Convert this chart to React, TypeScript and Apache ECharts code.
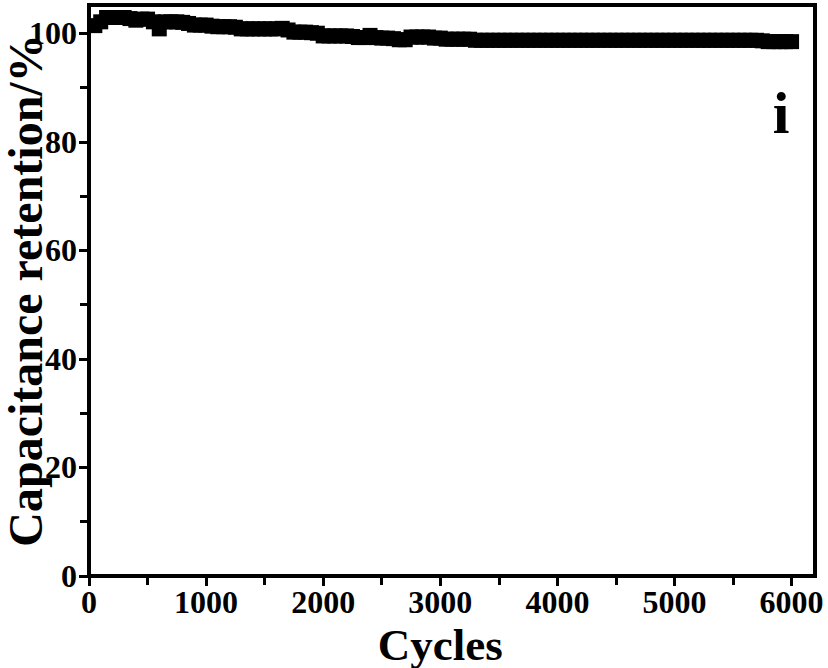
import React, { useEffect, useRef } from "react";
import * as echarts from "echarts";

const cycles: number[] = [
  50, 100, 150, 200, 250, 300, 350, 400, 450, 500,
  550, 600, 650, 700, 750, 800, 850, 900, 950, 1000,
  1050, 1100, 1150, 1200, 1250, 1300, 1350, 1400, 1450, 1500,
  1550, 1600, 1650, 1700, 1750, 1800, 1850, 1900, 1950, 2000,
  2050, 2100, 2150, 2200, 2250, 2300, 2350, 2400, 2450, 2500,
  2550, 2600, 2650, 2700, 2750, 2800, 2850, 2900, 2950, 3000,
  3050, 3100, 3150, 3200, 3250, 3300, 3350, 3400, 3450, 3500,
  3550, 3600, 3650, 3700, 3750, 3800, 3850, 3900, 3950, 4000,
  4050, 4100, 4150, 4200, 4250, 4300, 4350, 4400, 4450, 4500,
  4550, 4600, 4650, 4700, 4750, 4800, 4850, 4900, 4950, 5000,
  5050, 5100, 5150, 5200, 5250, 5300, 5350, 5400, 5450, 5500,
  5550, 5600, 5650, 5700, 5750, 5800, 5850, 5900, 5950, 6000,
];

const retention: number[] = [
  101.4, 102.1, 102.9, 102.9, 102.9, 102.9, 102.7, 102.4, 102.6, 102.6,
  102.1, 100.8, 102.1, 102.1, 102.1, 102.0, 101.8, 101.5, 101.5, 101.5,
  101.3, 101.2, 101.2, 101.2, 101.1, 100.8, 100.8, 100.8, 100.8, 100.8,
  100.8, 100.8, 100.9, 100.6, 100.2, 100.2, 100.2, 100.1, 100.0, 99.5,
  99.5, 99.5, 99.5, 99.5, 99.4, 99.2, 99.2, 99.6, 99.2, 99.1,
  99.1, 99.0, 98.8, 98.8, 99.3, 99.3, 99.3, 99.3, 99.1, 99.1,
  98.9, 98.9, 98.9, 98.9, 98.9, 98.7, 98.7, 98.7, 98.7, 98.7,
  98.7, 98.7, 98.7, 98.7, 98.7, 98.7, 98.7, 98.7, 98.7, 98.7,
  98.7, 98.7, 98.7, 98.7, 98.7, 98.7, 98.7, 98.7, 98.7, 98.7,
  98.7, 98.7, 98.7, 98.7, 98.7, 98.7, 98.7, 98.7, 98.7, 98.7,
  98.7, 98.7, 98.7, 98.7, 98.7, 98.7, 98.7, 98.7, 98.7, 98.7,
  98.7, 98.7, 98.7, 98.7, 98.6, 98.45, 98.45, 98.45, 98.45, 98.45,
];

const xTickMax = 6000;
const yTickMax = 100;
const xAxisMax = 6200;
const yAxisMax = 105.2;
const xTitle = "Cycles";
const yTitle = "Capacitance retention/%";
const panelLabel = "i";

const W = 828;
const H = 668;
const FONT = "'Liberation Serif', 'Times New Roman', serif";

export default function App() {
  const ref = useRef<HTMLDivElement>(null);
  useEffect(() => {
    if (!ref.current) return;
    document.body.style.margin = "0";
    const chart = echarts.init(ref.current, undefined, { renderer: "svg" });

    const left = 89;
    const right = 13;
    const top = 5;
    const bottom = 92;
    const plotW = W - left - right;
    const plotH = H - top - bottom;
    const tickW = (plotW * xTickMax) / xAxisMax;
    const tickH = (plotH * yTickMax) / yAxisMax;

    const tickStyle = { color: "#000", width: 3 };
    const labelStyle = {
      color: "#000",
      fontFamily: FONT,
      fontWeight: "bold" as const,
      fontSize: 32,
      formatter: (v: number) => String(v),
    };

    chart.setOption({
      animation: false,
      backgroundColor: "#fff",
      grid: [
        {
          left,
          right,
          top,
          bottom,
          show: true,
          borderColor: "#000",
          borderWidth: 4,
          backgroundColor: "transparent",
          containLabel: false,
          outerBoundsMode: "none",
        },
        {
          left,
          width: tickW,
          top: top + plotH - tickH,
          height: tickH,
          show: false,
          containLabel: false,
          outerBoundsMode: "none",
        },
      ],
      xAxis: [
        {
          gridIndex: 0,
          type: "value",
          min: 0,
          max: xAxisMax,
          axisLine: { show: false },
          axisTick: { show: false },
          axisLabel: { show: false },
          splitLine: { show: false },
        },
        {
          gridIndex: 1,
          type: "value",
          min: 0,
          max: xTickMax,
          interval: 1000,
          axisLine: { show: false },
          axisTick: { show: true, inside: false, length: 10, lineStyle: tickStyle },
          minorTick: { show: true, splitNumber: 2, length: 9, lineStyle: tickStyle },
          axisLabel: { ...labelStyle, margin: 10 },
          splitLine: { show: false },
          name: xTitle,
          nameLocation: "middle",
          nameGap: 37,
          nameTextStyle: {
            color: "#000",
            fontFamily: FONT,
            fontWeight: "bold",
            fontSize: 45,
            lineHeight: 38,
          },
        },
      ],
      yAxis: [
        {
          gridIndex: 0,
          type: "value",
          min: 0,
          max: yAxisMax,
          axisLine: { show: false },
          axisTick: { show: false },
          axisLabel: { show: false },
          splitLine: { show: false },
          name: yTitle,
          nameLocation: "middle",
          nameRotate: 90,
          nameGap: 44,
          nameTextStyle: {
            color: "#000",
            fontFamily: FONT,
            fontWeight: "bold",
            fontSize: 48,
            lineHeight: 40,
          },
        },
        {
          gridIndex: 1,
          type: "value",
          min: 0,
          max: yTickMax,
          interval: 20,
          axisLine: { show: false },
          axisTick: { show: true, inside: false, length: 10, lineStyle: tickStyle },
          minorTick: { show: true, splitNumber: 2, length: 9, lineStyle: tickStyle },
          axisLabel: { ...labelStyle, margin: 12 },
          splitLine: { show: false },
        },
      ],
      series: [
        {
          type: "scatter",
          xAxisIndex: 0,
          yAxisIndex: 0,
          symbol: "rect",
          symbolSize: 15,
          itemStyle: { color: "#000", opacity: 1 },
          data: cycles.map((c, i) => [c, retention[i]]),
        },
      ],
      graphic: [
        {
          type: "text",
          x: 781,
          y: 113,
          style: {
            text: panelLabel,
            fill: "#000",
            fontFamily: FONT,
            fontWeight: "bold",
            fontSize: 60,
            textAlign: "center",
            textVerticalAlign: "middle",
          },
        },
      ],
    });

    return () => chart.dispose();
  }, []);

  return <div ref={ref} style={{ width: W, height: H }} />;
}
